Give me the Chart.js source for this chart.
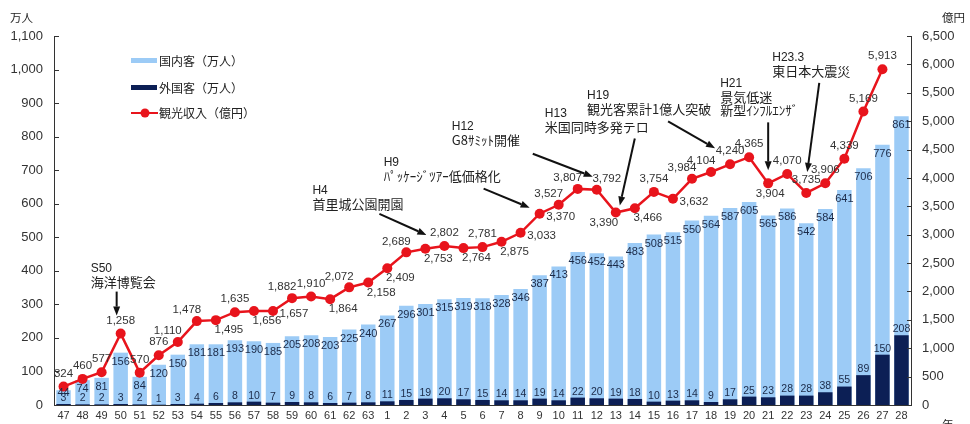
<!DOCTYPE html>
<html lang="ja">
<head>
<meta charset="utf-8">
<title>観光客数と観光収入の推移</title>
<script src="https://cdn.jsdelivr.net/npm/chart.js@4.4.1/dist/chart.umd.min.js"></script>
<style>
  html, body { margin: 0; padding: 0; background: #fff; }
  #wrap { width: 970px; height: 424px; }
</style>
</head>
<body>
<div id="wrap"><canvas id="chart" width="970" height="424"></canvas></div>
<script>
// 年（昭和47〜63、平成1〜28）
const YEARS = ['47','48','49','50','51','52','53','54','55','56','57','58','59','60','61','62','63',
  '1','2','3','4','5','6','7','8','9','10','11','12','13','14','15','16','17','18','19','20',
  '21','22','23','24','25','26','27','28'];

// 国内客（万人）
const DOMESTIC = [44,74,81,156,84,120,150,181,181,193,190,185,205,208,203,225,240,
  267,296,301,315,319,318,328,346,387,413,456,452,443,483,508,515,550,564,587,605,
  565,586,542,584,641,706,776,861];

// 外国客（万人）
const FOREIGN = [3,2,2,3,2,1,3,4,6,8,10,7,9,8,6,7,8,
  11,15,19,20,17,15,14,14,19,14,22,20,19,18,10,13,14,9,17,25,
  23,28,28,38,55,89,150,208];

// 観光収入（億円）
const REVENUE = [324,460,577,1258,570,876,1110,1478,1495,1635,1656,1657,1882,1910,1864,2072,2158,
  2409,2689,2753,2802,2764,2781,2875,3033,3370,3527,3807,3792,3390,3466,3754,3632,3984,4104,4240,4365,
  3904,4070,3735,3906,4339,5169,5913,null];

// 軸
const LEFT_MAX = 1100, LEFT_STEP = 100;
const RIGHT_MAX = 6500, RIGHT_STEP = 500;

// 収入ラベルの置き場所
const LABEL_POS = ['a','a','a','a','a','a','al','al','b','a','b','r','al','a','b','al','b',
  'b','al','b','a','b','a','b','r','r','al','al','ar','bl','b','a','r','al','al','a','a',
  'b0','a','a','a','a','a','a',null];
const OFFSETS = { a:[0,-13], al:[-10,-11], ar:[10,-11], b:[13,10], bl:[-12,10], b0:[2,10], r:[21,3] };

// 出来事の注記（点からの相対位置）
const NOTES = [
  { idx: 3,  lines: ['S50', '海洋博覧会'], text: [-30, -65], tail: [-4, -42], tip: [-4, -18] },
  { idx: 20, lines: ['H4', '首里城公園開園'], text: [-132, -55], tail: [-65, -32], tip: [-18, -11] },
  { idx: 25, lines: ['H9', 'ﾊﾟｯｹｰｼﾞﾂｱｰ低価格化'], text: [-156, -51], tail: [-56, -25], tip: [-10, -6] },
  { idx: 28, lines: ['H12', 'G8ｻﾐｯﾄ開催'], text: [-145, -63], tail: [-64, -36], tip: [-4, -13] },
  { idx: 29, lines: ['H13', '米国同時多発テロ'], text: [-71, -99], tail: [19, -74], tip: [4, -7] },
  { idx: 35, lines: ['H19', '観光客累計1億人突破'], text: [-143, -69], tail: [-62, -43], tip: [-15, -16] },
  { idx: 37, lines: ['H21', '景気低迷', '新型ｲﾝﾌﾙｴﾝｻﾞ'], text: [-48, -100], tail: [0, -61], tip: [0, -13] },
  { idx: 39, lines: ['H23.3', '東日本大震災'], text: [-34, -135], tail: [13, -110], tip: [1, -21] }
];

const LIGHT = '#9ccbf6';
const DARK = '#0c1f55';
const RED = '#e8141c';
const INK = '#333';
const FONT = '"Liberation Sans", "Noto Sans CJK JP", sans-serif';
const FONT_JP = '"Noto Sans CJK JP", "Liberation Sans", sans-serif';

const fmt = v => v.toLocaleString('en-US');

function arrow(ctx, x1, y1, x2, y2){
  const ang = Math.atan2(y2 - y1, x2 - x1);
  const len = 9, half = 3.5;
  const bx = x2 - len * Math.cos(ang), by = y2 - len * Math.sin(ang);
  ctx.beginPath();
  ctx.moveTo(x1, y1);
  ctx.lineTo(bx, by);
  ctx.stroke();
  ctx.beginPath();
  ctx.moveTo(x2, y2);
  ctx.lineTo(bx + half * Math.sin(ang), by - half * Math.cos(ang));
  ctx.lineTo(bx - half * Math.sin(ang), by + half * Math.cos(ang));
  ctx.closePath();
  ctx.fill();
}

// 目盛り線・数値ラベル・注記・凡例
const decor = {
  id: 'decor',
  afterDraw(chart){
    const { ctx, chartArea: ca, scales: { y, y1 } } = chart;
    ctx.save();

    ctx.strokeStyle = INK; ctx.lineWidth = 1;
    y.ticks.forEach(t => {
      const py = Math.round(y.getPixelForValue(t.value)) + 0.5;
      ctx.beginPath(); ctx.moveTo(ca.left, py); ctx.lineTo(ca.left + 5, py); ctx.stroke();
    });
    y1.ticks.forEach(t => {
      const py = Math.round(y1.getPixelForValue(t.value)) + 0.5;
      ctx.beginPath(); ctx.moveTo(ca.right - 4, py); ctx.lineTo(ca.right, py); ctx.stroke();
    });

    const mLight = chart.getDatasetMeta(0), mDark = chart.getDatasetMeta(1), mLine = chart.getDatasetMeta(2);
    ctx.textAlign = 'center'; ctx.textBaseline = 'middle';
    ctx.fillStyle = '#1b2a48';
    ctx.font = '11px ' + FONT;
    mLight.data.forEach((bar, i) => ctx.fillText(DOMESTIC[i], bar.x, Math.min(bar.y + 9, ca.bottom - 12)));
    ctx.font = '10.5px ' + FONT;
    mDark.data.forEach((bar, i) => ctx.fillText(FOREIGN[i], bar.x, Math.min(bar.y - 6, ca.bottom - 5)));

    ctx.fillStyle = INK;
    ctx.font = '11.5px ' + FONT;
    mLine.data.forEach((pt, i) => {
      if (REVENUE[i] == null) return;
      const [dx, dy] = OFFSETS[LABEL_POS[i]];
      ctx.fillText(fmt(REVENUE[i]), pt.x + dx, pt.y + dy);
    });

    // 注記
    ctx.textAlign = 'left';
    ctx.strokeStyle = '#111'; ctx.lineWidth = 2;
    NOTES.forEach(n => {
      const p = mLine.data[n.idx];
      n.lines.forEach((s, k) => {
        ctx.fillStyle = '#222';
        ctx.font = (k === 0 ? '12px ' + FONT : '13px ' + FONT_JP);
        ctx.fillText(s, p.x + n.text[0], p.y + n.text[1] + k * 13.5);
      });
      ctx.fillStyle = '#111';
      arrow(ctx, p.x + n.tail[0], p.y + n.tail[1], p.x + n.tip[0], p.y + n.tip[1]);
    });

    // 凡例
    ctx.font = '12px ' + FONT_JP;
    ctx.fillStyle = LIGHT; ctx.fillRect(131, 58, 26, 5);
    ctx.fillStyle = DARK; ctx.fillRect(131, 85, 26, 5);
    ctx.strokeStyle = RED; ctx.lineWidth = 2;
    ctx.beginPath(); ctx.moveTo(131, 113); ctx.lineTo(158, 113); ctx.stroke();
    ctx.fillStyle = RED; ctx.beginPath(); ctx.arc(145, 113, 4.5, 0, Math.PI * 2); ctx.fill();
    ctx.fillStyle = '#222';
    ctx.fillText('国内客（万人）', 159, 61);
    ctx.fillText('外国客（万人）', 159, 88);
    ctx.fillText('観光収入（億円）', 159, 113);

    // 単位
    ctx.font = '11.5px ' + FONT_JP;
    ctx.fillText('万人', 10, 18);
    ctx.fillText('億円', 942, 18);
    ctx.fillText('年', 942, 425);
    ctx.restore();
  }
};

const tickFont = { family: FONT, size: 13 };
const noGrid = { display: false, drawTicks: false, tickLength: 0 };

new Chart(document.getElementById('chart'), {
  data: {
    labels: YEARS,
    datasets: [
      { type: 'bar', label: '国内客（万人）', data: DOMESTIC, backgroundColor: LIGHT, yAxisID: 'y',
        order: 2, grouped: false, barPercentage: 0.76, categoryPercentage: 1 },
      { type: 'bar', label: '外国客（万人）', data: FOREIGN, backgroundColor: DARK, yAxisID: 'y',
        order: 1, grouped: false, barPercentage: 0.76, categoryPercentage: 1 },
      { type: 'line', label: '観光収入（億円）', data: REVENUE, yAxisID: 'y1', order: 0,
        borderColor: RED, backgroundColor: RED, borderWidth: 2.5, tension: 0,
        pointRadius: 5, pointBackgroundColor: RED, pointBorderWidth: 0 }
    ]
  },
  options: {
    responsive: false,
    animation: false,
    layout: { padding: { top: 36, left: 0, right: 0, bottom: 0 } },
    plugins: { legend: { display: false }, tooltip: { enabled: false } },
    scales: {
      x: {
        offset: true,
        grid: noGrid,
        border: { display: true, color: INK, width: 1 },
        ticks: { font: { family: FONT, size: 11 }, color: INK, padding: 4, autoSkip: false, maxRotation: 0 },
        afterFit(s){ s.height = 19; }
      },
      y: {
        position: 'left', min: 0, max: LEFT_MAX,
        grid: noGrid,
        border: { display: true, color: INK, width: 1 },
        ticks: { stepSize: LEFT_STEP, callback: v => fmt(v), font: tickFont, color: INK, padding: 11 },
        afterFit(s){ s.width = 54; }
      },
      y1: {
        position: 'right', min: 0, max: RIGHT_MAX,
        grid: noGrid,
        border: { display: true, color: INK, width: 1 },
        ticks: { stepSize: RIGHT_STEP, callback: v => fmt(v), font: tickFont, color: INK, padding: 11 },
        afterFit(s){ s.width = 59; }
      }
    }
  },
  plugins: [decor]
});
</script>
</body>
</html>
